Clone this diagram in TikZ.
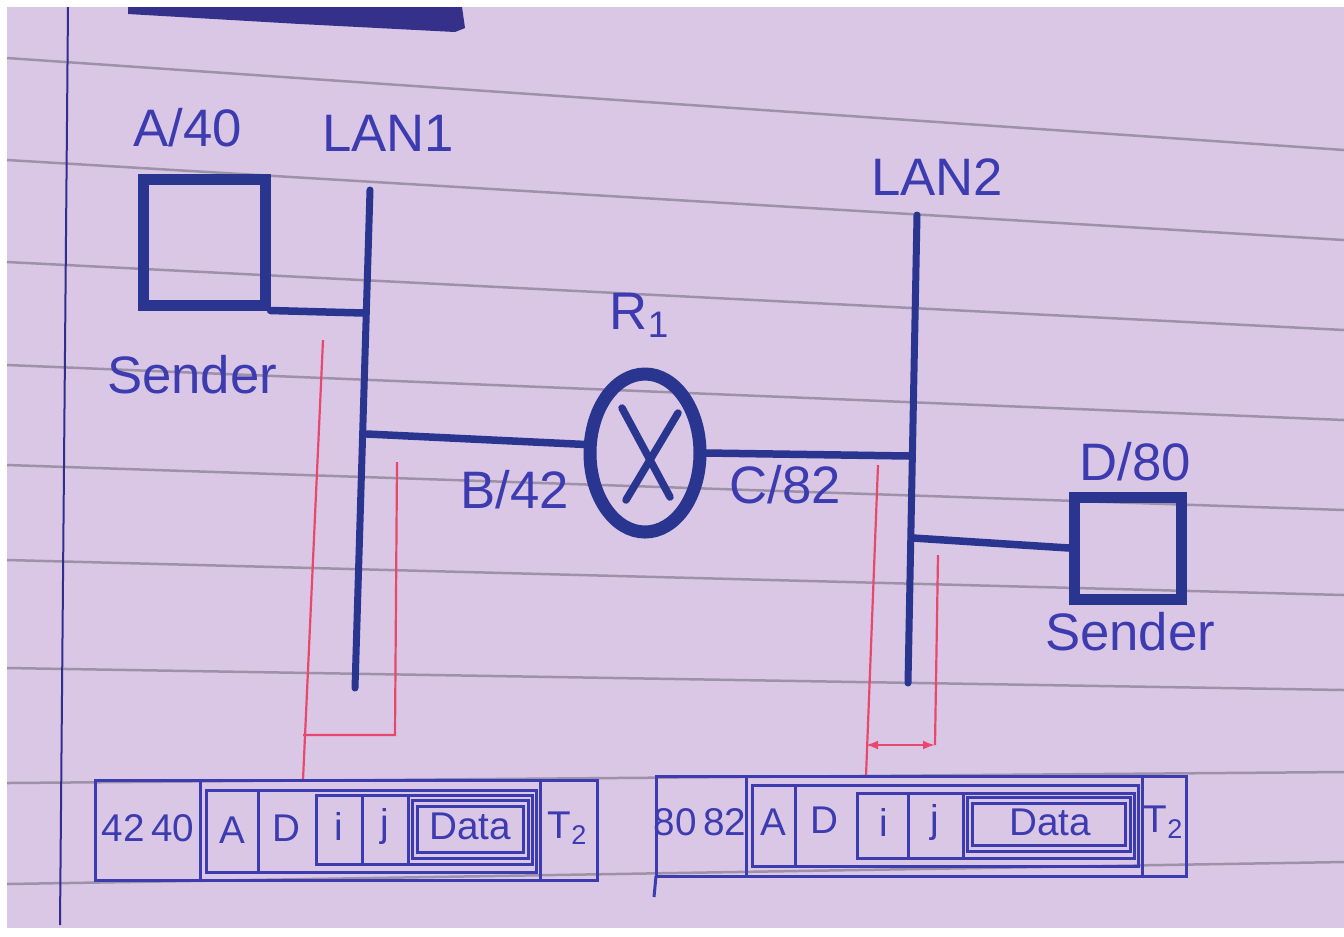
\documentclass[tikz,border=0pt]{standalone}
\usepackage{fontspec}
\setmainfont{Liberation Sans}
\usepackage{tikz}
\usetikzlibrary{arrows.meta,positioning,shapes.geometric}
\definecolor{Paper}{HTML}{D9C7E5}
\definecolor{Rule}{HTML}{9E92A8}
\definecolor{Ink}{HTML}{2A3590}
\definecolor{Pen}{HTML}{3D3BB0}
\definecolor{Marker}{HTML}{35308A}
\definecolor{RedPen}{HTML}{E8486E}
\tikzset{
  hostbox/.style={draw=Ink,line width=1.1mm,inner sep=0pt},
  routernode/.style={ellipse,draw=Ink,line width=1.3mm,minimum width=11mm,
              minimum height=15.8mm,inner sep=0pt},
  bus/.style={draw=Ink,line width=0.7mm,line cap=round},
  link/.style={draw=Ink,line width=0.75mm,line cap=round},
  tag/.style={text=Pen,font=\fontsize{15}{18}\selectfont,inner sep=1pt},
  celltext/.style={text=Pen,font=\fontsize{11}{13}\selectfont,inner sep=1pt},
  framebox/.style={draw=Pen,line width=0.3mm},
  redline/.style={draw=RedPen,line width=0.22mm},
  ruling/.style={draw=Rule,line width=0.25mm}
}

\begin{document}
\begin{tikzpicture}[x=0.1mm,y=-0.1mm]
  \useasboundingbox (0,0) rectangle (1344,936);
  % paper
  \fill[white] (0,0) rectangle (1344,936);
  \fill[Paper] (7,7) rectangle (1344,928);
  \foreach \ya/\yb in {58/150,160/240,262/330,365/420,465/510,560/595,668/690,783/772,884/862}
    \draw[ruling] (7,\ya) -- (1344,\yb);
  \draw[draw=Pen!80!black,line width=0.2mm] (68,7) -- (60,925);
  \fill[Marker] (128,7) -- (462,7) -- (465,28) -- (455,32) -- (300,24) -- (128,14) -- cycle;

  % LAN 1 side
  \node[hostbox,minimum width=12.2mm,minimum height=12.6mm] (hostA) at (204,242) {};
  \node[tag] (nameA) at (188,128) {A/40};
  \node[tag] (sendA) at (192,375) {Sender};
  \coordinate (lan1top) at (370,190);
  \coordinate (lan1bot) at (355,688);
  \node[tag] (lan1lbl) at (388,133) {LAN1};
  \draw[bus] (lan1top) -- (lan1bot);
  \coordinate (tapA) at (364,313);
  \coordinate (tapB) at (367,434);
  \draw[link] (hostA.south east) -- (tapA);

  % router
  \node[routernode] (router) at (645,453) {};
  \draw[link] (622,408) -- (670,497);
  \draw[link] (678,413) -- (626,500);
  \node[tag] (rname) at (640,315) {R\textsubscript{1}};
  \node[tag] (portB) at (515,490) {B/42};
  \node[tag] (portC) at (785,485) {C/82};
  \draw[link] (tapB) -- (router.172);

  % LAN 2 side
  \coordinate (lan2top) at (917,215);
  \coordinate (lan2bot) at (908,683);
  \node[tag] (lan2lbl) at (937,177) {LAN2};
  \draw[bus] (lan2top) -- (lan2bot);
  \coordinate (tapC) at (910,456);
  \coordinate (tapD) at (913,538);
  \draw[link] (router.east) -- (tapC);
  \node[hostbox,minimum width=10.7mm,minimum height=10.2mm] (hostD) at (1128,548) {};
  \node[tag] (nameD) at (1135,462) {D/80};
  \node[tag] (sendD) at (1130,632) {Sender};
  \draw[link] (tapD) -- (hostD.west);

  % red markers
  \draw[redline] (323,340) -- (303,780);
  \draw[redline] (303,735) -- (395,735) -- (397,462);
  \draw[redline] (878,465) -- (866,776);
  \draw[redline,{Latex[length=1.2mm]}-{Latex[length=1.2mm]}] (866,745) -- (935,745);
  \draw[redline] (935,745) -- (938,555);

  % frame on LAN1
  \draw[framebox] (95,780) rectangle (597,880);
  \draw[framebox] (200,780) -- (200,880);
  \draw[framebox] (540,780) -- (540,880);
  \draw[framebox] (206,790) rectangle (536,872);
  \draw[framebox] (258,790) -- (258,872);
  \draw[framebox] (316,795) rectangle (532,864);
  \draw[framebox] (362,795) -- (362,864);
  \draw[framebox] (408,795) -- (408,864);
  \draw[framebox] (412,800) rectangle (528,858);
  \draw[framebox] (417,806) rectangle (523,852);
  \node[celltext] (macA) at (148,828) {42\,40};
  \node[celltext] (ipA) at (232,830) {A};
  \node[celltext] (ipD) at (286,828) {D};
  \node[celltext] (fi) at (339,826) {i};
  \node[celltext] (fj) at (385,826) {j};
  \node[celltext] (fdata) at (470,826) {Data};
  \node[celltext] (ftrail) at (568,828) {T\textsubscript{2}};

  % frame on LAN2
  \draw[framebox] (656,776) rectangle (1186,876);
  \draw[framebox] (656,876) -- (654,897);
  \draw[framebox] (746,776) -- (746,876);
  \draw[framebox] (1142,776) -- (1142,876);
  \draw[framebox] (752,785) rectangle (1138,866);
  \draw[framebox] (795,785) -- (795,866);
  \draw[framebox] (857,793) rectangle (1134,858);
  \draw[framebox] (908,793) -- (908,858);
  \draw[framebox] (963,793) -- (963,858);
  \draw[framebox] (967,797) rectangle (1130,851);
  \draw[framebox] (972,803) rectangle (1125,845);
  \node[celltext] (macC) at (700,822) {80\,82};
  \node[celltext] (ipA2) at (773,822) {A};
  \node[celltext] (ipD2) at (824,820) {D};
  \node[celltext] (gi) at (884,822) {i};
  \node[celltext] (gj) at (935,822) {j};
  \node[celltext] (gdata) at (1050,822) {Data};
  \node[celltext] (gtrail) at (1164,822) {T\textsubscript{2}};
\end{tikzpicture}
\end{document}
